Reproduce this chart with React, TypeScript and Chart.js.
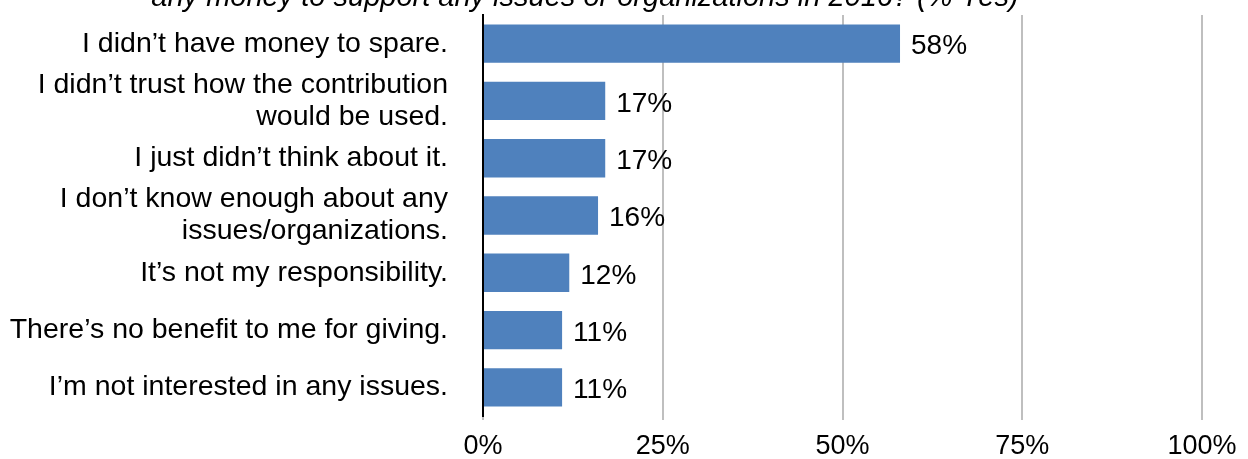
import React, { useEffect, useRef } from "react";
import { Chart, registerables } from "chart.js";

Chart.register(...registerables);

const categories: (string | string[])[] = [
  "I didn\u2019t have money to spare.",
  ["I didn\u2019t trust how the contribution", "would be used."],
  "I just didn\u2019t think about it.",
  ["I don\u2019t know enough about any", "issues/organizations."],
  "It\u2019s not my responsibility.",
  "There\u2019s no benefit to me for giving.",
  "I\u2019m not interested in any issues.",
];
const values = [58, 17, 17, 16, 12, 11, 11];
const titleText = "any money to support any issues or organizations in 2016? (% Yes)";

const FONT = "'Liberation Sans', Arial, sans-serif";

const labelPlugin = {
  id: "valueLabels",
  afterDatasetsDraw(chart: any) {
    const ctx = chart.ctx;
    const meta = chart.getDatasetMeta(0);
    ctx.save();
    ctx.font = `28px ${FONT}`;
    ctx.fillStyle = "#000";
    ctx.textAlign = "left";
    ctx.textBaseline = "middle";
    meta.data.forEach((bar: any, i: number) => {
      ctx.fillText(values[i] + "%", bar.x + 11, bar.y + 3);
    });
    ctx.restore();
  },
};

const titlePlugin = {
  id: "cutTitle",
  afterDraw(chart: any) {
    const ctx = chart.ctx;
    ctx.save();
    ctx.font = `italic 29px ${FONT}`;
    ctx.fillStyle = "#000";
    ctx.textAlign = "center";
    ctx.textBaseline = "alphabetic";
    ctx.fillText(titleText, 585, 6);
    ctx.restore();
  },
};

export default function App() {
  const ref = useRef<HTMLCanvasElement>(null);
  useEffect(() => {
    document.body.style.margin = "0";
    const chart = new Chart(ref.current!, {
      type: "bar",
      data: {
        labels: categories,
        datasets: [
          {
            data: values,
            backgroundColor: "#4f81bd",
            barPercentage: 0.67,
            categoryPercentage: 1,
          },
        ],
      },
      options: {
        indexAxis: "y",
        animation: false,
        responsive: false,
        layout: { padding: { top: 15, right: 46, left: 0, bottom: 0 } },
        plugins: { legend: { display: false }, tooltip: { enabled: false } },
        scales: {
          x: {
            min: 0,
            max: 100,
            ticks: {
              stepSize: 25,
              callback: (v: any) => v + "%",
              color: "#000",
              font: { family: FONT, size: 27 },
              padding: 10,
              maxRotation: 0,
            },
            grid: { color: "#bfbfbf", lineWidth: 2, tickLength: 4, drawTicks: true },
            border: { display: false },
            afterFit: (s: any) => {
              s.height = 43;
              s.paddingLeft = 0;
              s.paddingRight = 0;
            },
          },
          y: {
            ticks: {
              color: "#000",
              font: { family: FONT, size: 28.5, lineHeight: 1.13 },
              padding: 27,
              autoSkip: false,
            },
            grid: { display: false },
            border: { display: true, color: "#000", width: 2 },
            afterFit: (s: any) => {
              s.width = 483;
              s.paddingTop = 0;
              s.paddingBottom = 0;
            },
          },
        },
      },
      plugins: [labelPlugin, titlePlugin],
    });
    return () => chart.destroy();
  }, []);
  return (
    <div style={{ width: 1248, height: 459 }}>
      <canvas ref={ref} width={1248} height={459} />
    </div>
  );
}
